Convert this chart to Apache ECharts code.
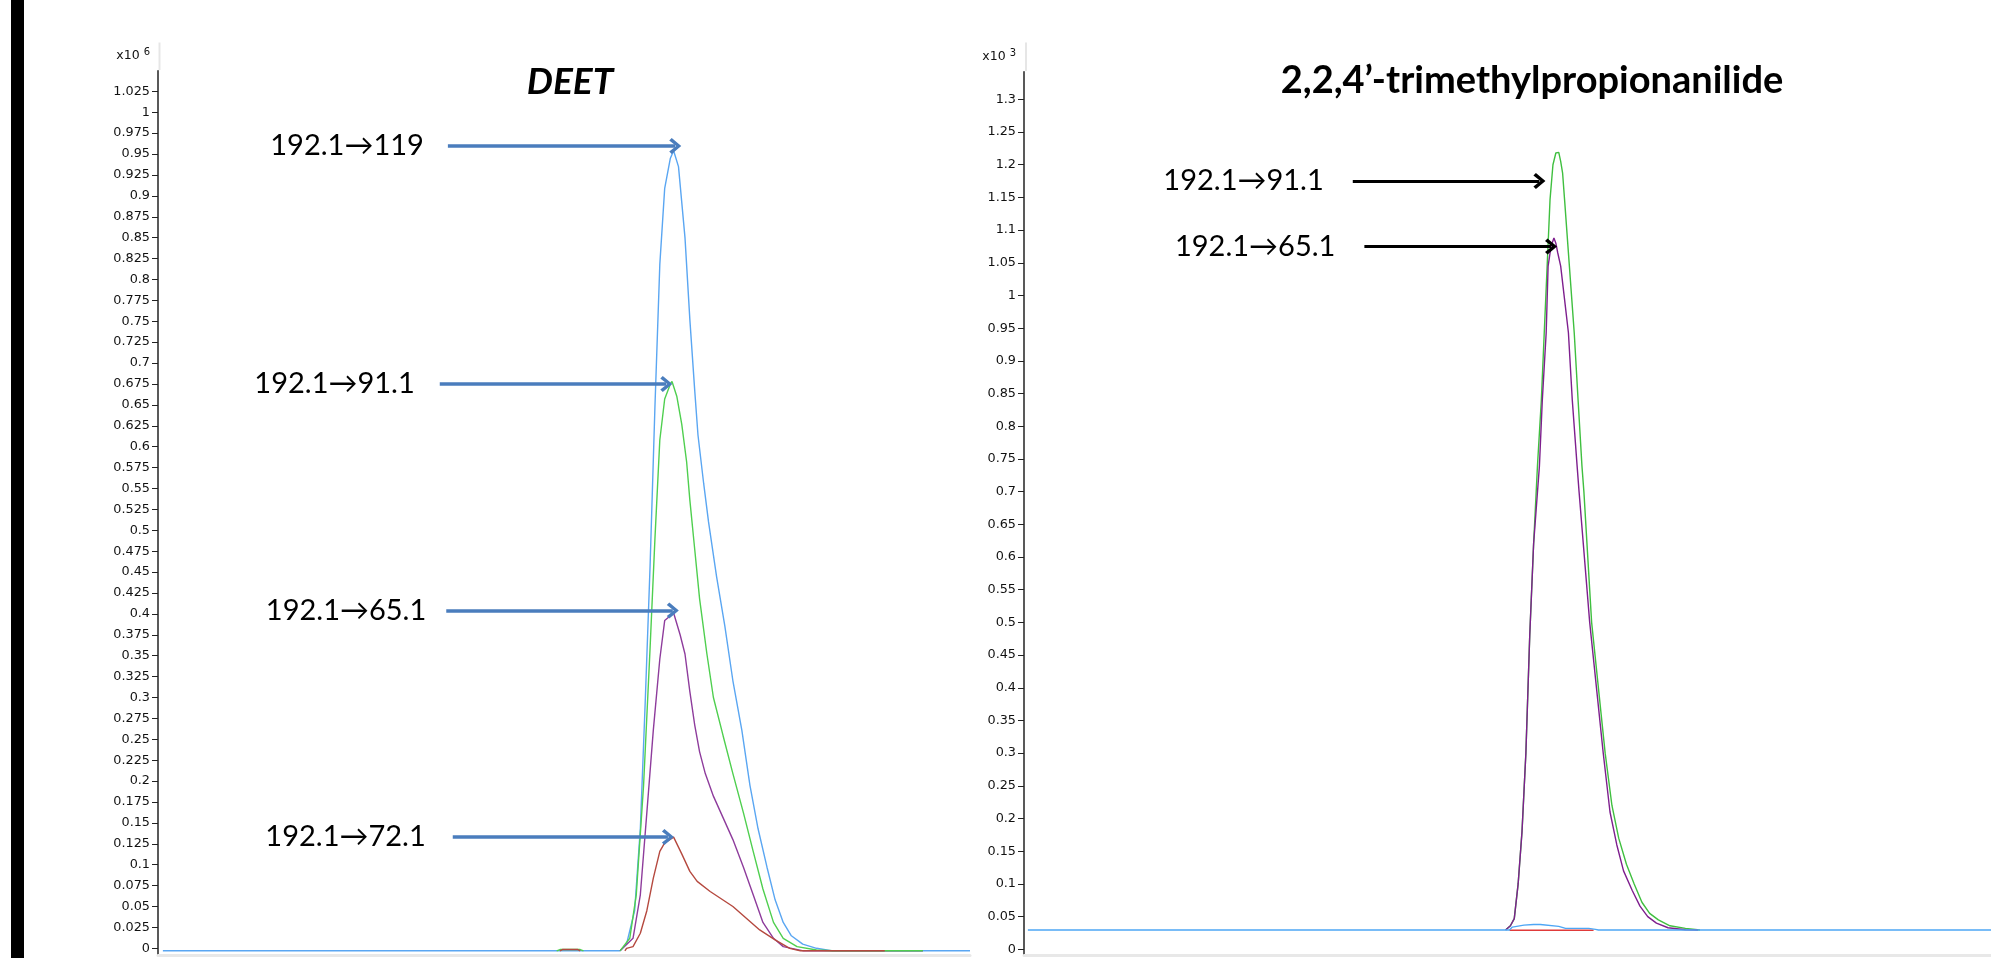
<!DOCTYPE html>
<html>
<head>
<meta charset="utf-8">
<script src="https://cdn.jsdelivr.net/npm/echarts@6/dist/echarts.min.js"></script>
<style>
html,body{margin:0;padding:0;background:#fff;}
#chart{width:1991px;height:958px;}
</style>
</head>
<body>
<div id="chart"></div>
<script>
// ---------- Tick labels ----------
const yTicksDeet = [0,0.025,0.05,0.075,0.1,0.125,0.15,0.175,0.2,0.225,0.25,0.275,0.3,0.325,0.35,0.375,0.4,0.425,0.45,0.475,0.5,0.525,0.55,0.575,0.6,0.625,0.65,0.675,0.7,0.725,0.75,0.775,0.8,0.825,0.85,0.875,0.9,0.925,0.95,0.975,1,1.025];
const yTicksTmp = [0,0.05,0.1,0.15,0.2,0.25,0.3,0.35,0.4,0.45,0.5,0.55,0.6,0.65,0.7,0.75,0.8,0.85,0.9,0.95,1,1.05,1.1,1.15,1.2,1.25,1.3];

// ---------- Titles / labels ----------
const titles = ['DEET', '2,2,4\u2019-trimethylpropionanilide'];
const scaleNames = ['x10 {s|6}', 'x10 {s|3}'];

// ---------- DEET transitions (time, intensity x10^6) ----------
const deet119 = [[0.06,-0.003],[5.69,-0.003],[5.77,0.005],[5.87,0.045],[5.94,0.143],[6.00,0.294],[6.06,0.457],[6.12,0.648],[6.18,0.818],[6.24,0.909],[6.31,0.945],[6.35,0.954],[6.41,0.935],[6.49,0.850],[6.55,0.752],[6.61,0.667],[6.65,0.614],[6.72,0.556],[6.78,0.510],[6.88,0.444],[6.98,0.386],[7.08,0.320],[7.19,0.261],[7.29,0.195],[7.39,0.143],[7.50,0.097],[7.60,0.058],[7.70,0.031],[7.80,0.015],[7.94,0.005],[8.11,0.0],[8.31,-0.003],[10.0,-0.003]];
const deet651 = [[5.69,-0.003],[5.85,0.012],[5.94,0.064],[6.02,0.162],[6.10,0.261],[6.18,0.346],[6.24,0.392],[6.35,0.401],[6.43,0.375],[6.49,0.352],[6.55,0.307],[6.61,0.267],[6.67,0.235],[6.74,0.209],[6.84,0.182],[6.96,0.156],[7.08,0.130],[7.21,0.097],[7.33,0.064],[7.45,0.031],[7.58,0.012],[7.70,0.002],[7.95,-0.003],[9.42,-0.003]];
const deet911 = [[4.91,-0.003],[4.95,-0.0015],[5.20,-0.0015],[5.24,-0.003],[5.30,null],[5.69,-0.003],[5.81,0.012],[5.89,0.064],[5.98,0.195],[6.06,0.359],[6.12,0.490],[6.18,0.608],[6.24,0.657],[6.31,0.675],[6.33,0.678],[6.39,0.660],[6.45,0.627],[6.51,0.582],[6.55,0.536],[6.61,0.477],[6.67,0.418],[6.76,0.352],[6.84,0.300],[6.96,0.254],[7.08,0.209],[7.21,0.162],[7.33,0.116],[7.45,0.071],[7.58,0.031],[7.70,0.012],[7.87,0.002],[8.11,-0.002],[8.31,-0.003],[9.42,-0.003]];
const deet721 = [[4.95,-0.003],[4.98,-0.0015],[5.17,-0.0015],[5.20,-0.003],[5.30,null],[5.75,-0.003],[5.77,0],[5.85,0.002],[5.94,0.018],[6.02,0.045],[6.10,0.084],[6.18,0.116],[6.24,0.126],[6.35,0.133],[6.45,0.113],[6.55,0.092],[6.64,0.080],[6.80,0.068],[7.08,0.050],[7.41,0.022],[7.60,0.010],[7.78,0.0],[7.91,-0.003],[8.95,-0.003]];

// ---------- 2,2,4'-trimethylpropionanilide transitions (time, intensity x10^3) ----------
const tmpBlue = [[0.04,0.0295],[5.02,0.0295],[5.05,0.034],[5.17,0.037],[5.27,0.038],[5.34,0.038],[5.53,0.035],[5.60,0.032],[5.84,0.032],[5.91,0.0305],[5.94,0.0295],[10,0.0295]];
const tmpRed = [[5.02,0.0292],[5.89,0.0292]];
const tmp911 = [[4.98,0.0295],[5.03,0.036],[5.07,0.047],[5.11,0.10],[5.15,0.18],[5.19,0.30],[5.23,0.48],[5.27,0.62],[5.31,0.74],[5.35,0.84],[5.38,0.943],[5.41,1.045],[5.44,1.147],[5.47,1.20],[5.50,1.218],[5.53,1.219],[5.55,1.205],[5.57,1.187],[5.59,1.147],[5.64,1.045],[5.69,0.943],[5.73,0.84],[5.77,0.739],[5.79,0.70],[5.87,0.50],[6.01,0.30],[6.08,0.22],[6.15,0.17],[6.23,0.13],[6.31,0.10],[6.39,0.072],[6.47,0.055],[6.56,0.045],[6.68,0.036],[6.84,0.032],[6.99,0.0295]];
const tmp651 = [[4.98,0.0295],[5.03,0.036],[5.07,0.047],[5.11,0.10],[5.15,0.18],[5.19,0.30],[5.23,0.48],[5.27,0.62],[5.33,0.739],[5.36,0.84],[5.40,0.943],[5.42,1.045],[5.45,1.075],[5.48,1.088],[5.50,1.08],[5.52,1.065],[5.55,1.045],[5.59,0.994],[5.63,0.943],[5.67,0.84],[5.72,0.739],[5.74,0.70],[5.85,0.50],[5.99,0.30],[6.06,0.21],[6.13,0.16],[6.20,0.12],[6.29,0.09],[6.37,0.066],[6.45,0.05],[6.54,0.04],[6.66,0.033],[6.84,0.03],[6.97,0.0295]];

// ---------- Arrow annotations: [label, y, xStart, xEnd, labelGap] ----------
const deetArrows = [['192.1\u2192119',0.9596,3.57,6.37,24],['192.1\u219291.1',0.675,3.47,6.26,25],['192.1\u219265.1',0.404,3.55,6.34,20],['192.1\u219272.1',0.133,3.63,6.28,27]];
const tmpArrows = [['192.1\u219291.1',1.175,3.40,5.33,29],['192.1\u219265.1',1.075,3.52,5.45,29]];

const chevron = 'path://M8,0 L16,9.5 L13.5,12 L8,5 L2.5,12 L0,9.5 Z';
const axisFont = 'DejaVu Sans';
const labelFont = 'Lato';

function arrowData(list){
  return list.map(a => [
    {name:a[0], coord:[a[2], a[1]], label:{distance:a[4]}},
    {coord:[a[3], a[1]], symbolSize:[16,12]}
  ]);
}

function yAxisCfg(grid, min, max, ticks, name){
  return {
    type:'value', gridIndex:grid, min:min, max:max,
    name:name, nameLocation:'end', nameGap:7,
    nameTextStyle:{fontFamily:axisFont, fontSize:12.5, color:'#111', align:'right', verticalAlign:'bottom', padding:[0,8,0,0],
      rich:{s:{fontFamily:axisFont, fontSize:10, color:'#111', padding:[0,0,6,0]}}},
    axisLine:{show:true, onZero:false, lineStyle:{color:'#222', width:1.5}},
    axisTick:{show:true, length:6, customValues:ticks, lineStyle:{color:'#222', width:1}},
    axisLabel:{show:true, margin:8, customValues:ticks, fontFamily:axisFont, fontSize:12.8, color:'#111'},
    splitLine:{show:false}
  };
}
function xAxisCfg(grid){
  return {
    type:'value', gridIndex:grid, min:0, max:10,
    axisLine:{show:true, onZero:false, lineStyle:{color:'#e8e8e8', width:3}},
    axisTick:{show:false}, axisLabel:{show:false}, splitLine:{show:false}
  };
}
function lineSeries(x, data, color, extra){
  return Object.assign({
    type:'line', xAxisIndex:x, yAxisIndex:x, data:data, showSymbol:false, symbol:'none',
    lineStyle:{color:color, width:1.4}, itemStyle:{color:color}, connectNulls:false,
    emphasis:{disabled:true}, silent:true
  }, extra || {});
}
function markLineCfg(list, color, width){
  return {
    silent:true, animation:false,
    symbol:['none', chevron], symbolSize:[1,16],
    lineStyle:{color:color, width:width, type:'solid'},
    label:{show:true, position:'start', formatter:'{b}', color:'#000', fontFamily:labelFont, fontSize:29},
    emphasis:{disabled:true},
    data:arrowData(list)
  };
}

const chart = echarts.init(document.getElementById('chart'), null, {renderer:'canvas'});
chart.setOption({
  animation:false,
  backgroundColor:'#fff',
  grid:[
    {left:158, top:70.7, width:812, bottom:3, outerBoundsMode:'none', containLabel:false},
    {left:1024, top:71.7, right:0, bottom:3, outerBoundsMode:'none', containLabel:false}
  ],
  xAxis:[xAxisCfg(0), xAxisCfg(1)],
  yAxis:[
    yAxisCfg(0, -0.008, 1.0497, yTicksDeet, scaleNames[0]),
    yAxisCfg(1, -0.0087, 1.3423, yTicksTmp, scaleNames[1])
  ],
  graphic:[
    {type:'rect', shape:{x:11, y:0, width:13, height:958}, style:{fill:'#000'}, silent:true},
    {type:'line', shape:{x1:159.5, y1:42.5, x2:159.5, y2:70}, style:{stroke:'#e6e6e6', lineWidth:2}, silent:true},
    {type:'line', shape:{x1:1026, y1:42.5, x2:1026, y2:71}, style:{stroke:'#e6e6e6', lineWidth:2}, silent:true},
    {type:'text', x:570, y:82, style:{text:titles[0], fontFamily:labelFont, fontWeight:'bold', fontStyle:'italic', fontSize:37, fill:'#000', align:'center', verticalAlign:'middle'}, silent:true},
    {type:'text', x:1532, y:81, style:{text:titles[1], fontFamily:labelFont, fontWeight:'bold', fontSize:38, fill:'#000', align:'center', verticalAlign:'middle'}, silent:true}
  ],
  series:[
    lineSeries(0, deet119, '#5aa6f2', {markLine:markLineCfg(deetArrows, '#4a7dbd', 3.5)}),
    lineSeries(0, deet651, '#8e3c9c'),
    lineSeries(0, deet911, '#4fcf4f'),
    lineSeries(0, deet721, '#b5493f'),
    lineSeries(1, tmpRed, '#e03a3a'),
    lineSeries(1, tmp911, '#3fbf3f'),
    lineSeries(1, tmp651, '#7e1f8e'),
    lineSeries(1, tmpBlue, '#4da6f5', {markLine:markLineCfg(tmpArrows, '#000', 3)})
  ]
});
</script>
</body>
</html>
